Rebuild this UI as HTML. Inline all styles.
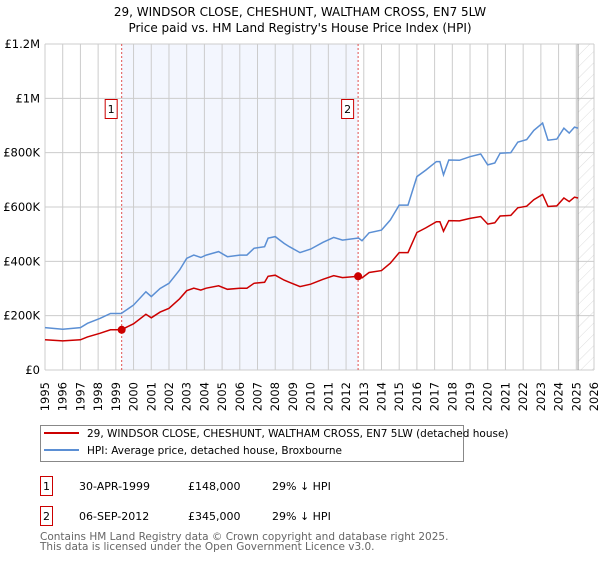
<!DOCTYPE html>
<html><head><meta charset="utf-8">
<style>
body{margin:0;background:#fff;font-family:"DejaVu Sans","Liberation Sans",sans-serif;}
svg text{font-family:"DejaVu Sans","Liberation Sans",sans-serif;}
</style></head>
<body>
<svg id="chart" width="600" height="560" xmlns="http://www.w3.org/2000/svg">
<defs>
<pattern id="hatch" width="8" height="8" patternUnits="userSpaceOnUse" patternTransform="rotate(45)">
<line x1="0" y1="0" x2="0" y2="8" stroke="#d4d4d4" stroke-width="0.8"/>
</pattern>
</defs>
<text x="300" y="16" text-anchor="middle" font-size="12">29, WINDSOR CLOSE, CHESHUNT, WALTHAM CROSS, EN7 5LW</text>
<text x="300" y="32" text-anchor="middle" font-size="12">Price paid vs. HM Land Registry's House Price Index (HPI)</text>
<g id="plot"></g>
<g>
<rect x="40.5" y="425.5" width="423" height="36" fill="#fff" stroke="#888"/>
<line x1="44" y1="433" x2="79" y2="433" stroke="#cc0000" stroke-width="2"/>
<text x="87" y="437" font-size="10.5">29, WINDSOR CLOSE, CHESHUNT, WALTHAM CROSS, EN7 5LW (detached house)</text>
<line x1="44" y1="450" x2="79" y2="450" stroke="#5b8fd4" stroke-width="2"/>
<text x="87" y="454" font-size="10.5">HPI: Average price, detached house, Broxbourne</text>
</g>
<g font-size="11">
<rect x="40.5" y="476.5" width="12" height="19" fill="#fff" stroke="#cc0000"/>
<text x="46.5" y="490" text-anchor="middle">1</text>
<text x="79" y="490">30-APR-1999</text>
<text x="188" y="490">£148,000</text>
<text x="272" y="490">29% ↓ HPI</text>
<rect x="40.5" y="506.5" width="12" height="19" fill="#fff" stroke="#cc0000"/>
<text x="46.5" y="520" text-anchor="middle">2</text>
<text x="79" y="520">06-SEP-2012</text>
<text x="188" y="520">£345,000</text>
<text x="272" y="520">29% ↓ HPI</text>
</g>
<g font-size="10.5" fill="#666">
<text x="40" y="540">Contains HM Land Registry data © Crown copyright and database right 2025.</text>
<text x="40" y="550">This data is licensed under the Open Government Licence v3.0.</text>
</g>
</svg>
<script>
const yTicks=[0,200000,400000,600000,800000,1000000,1200000];
const yTickLabels=["£0","£200K","£400K","£600K","£800K","£1M","£1.2M"];
const xYears=[1995,1996,1997,1998,1999,2000,2001,2002,2003,2004,2005,2006,2007,2008,2009,2010,2011,2012,2013,2014,2015,2016,2017,2018,2019,2020,2021,2022,2023,2024,2025,2026];
const hpiDates=[1995,1996,1997,1997.4,1998.1,1998.7,1999.3,2000,2000.7,2001,2001.5,2002,2002.6,2003,2003.4,2003.8,2004.1,2004.8,2005.3,2006,2006.4,2006.8,2007.4,2007.6,2008,2008.5,2008.8,2009.4,2010,2010.7,2011.3,2011.8,2012.7,2012.9,2013.3,2014,2014.5,2015,2015.5,2016,2016.5,2017.1,2017.3,2017.5,2017.8,2018.4,2019,2019.6,2020,2020.4,2020.7,2021.3,2021.7,2022.2,2022.6,2023.1,2023.4,2023.9,2024.3,2024.6,2024.9,2025.1];
const hpiValues=[156000,150000,156000,172000,190000,208000,208000,239000,288000,270000,300000,319000,368000,411000,423000,414000,423000,436000,417000,423000,423000,448000,454000,485000,491000,466000,454000,432000,445000,470000,488000,478000,486000,476000,505000,515000,552000,607000,607000,712000,736000,767000,767000,718000,773000,772000,785000,795000,755000,762000,798000,800000,839000,848000,882000,909000,846000,850000,890000,872000,894000,890000];
const propValues=[111000,107000,111000,122000,135000,148000,148000,170000,205000,192000,213000,227000,262000,292000,301000,294000,301000,310000,297000,301000,301000,319000,323000,345000,349000,331000,323000,307000,316000,334000,347000,340000,345000,339000,359000,366000,393000,432000,432000,506000,523000,546000,546000,511000,550000,549000,558000,565000,537000,542000,567000,569000,597000,603000,627000,646000,602000,604000,633000,620000,636000,633000];
const sales=[{n:"1",date:1999.33,price:148000},{n:"2",date:2012.68,price:345000}];
const forecastStart=2025.1;

const NS="http://www.w3.org/2000/svg";
const L=45,R=594,T=44,B=370;
const xs=v=>L+(v-1995)/(2026-1995)*(R-L);
const ys=v=>B-v/1200000*(B-T);
const g=document.getElementById('plot');
function mk(tag,attrs,parent){const e=document.createElementNS(NS,tag);for(const k in attrs)e.setAttribute(k,attrs[k]);(parent||g).appendChild(e);return e;}

let e=mk('rect',{x:xs(sales[0].date),y:T,width:xs(sales[1].date)-xs(sales[0].date),height:B-T,fill:'#f3f6fe'});


e=mk('rect',{x:xs(forecastStart),y:T,width:R-xs(forecastStart),height:B-T,fill:'url(#hatch)'});



yTicks.forEach((t,i)=>{
 let l=mk('line',{x1:L,x2:R,y1:ys(t),y2:ys(t),stroke:'#ccc','stroke-width':1});
 
 
 let tx=mk('text',{x:40,y:ys(t)+4,'text-anchor':'end','font-size':'11.5'});
 tx.textContent=yTickLabels[i];
 
 
});
xYears.forEach(yr=>{
 let l=mk('line',{x1:xs(yr),x2:xs(yr),y1:T,y2:B,stroke:'#ccc','stroke-width':1});
 
 
 let tx=mk('text',{x:0,y:0,'text-anchor':'end','font-size':'11.5',transform:`translate(${xs(yr)+4},${B+12}) rotate(-90)`});
 tx.textContent=yr;
 
 
});
e=mk('line',{x1:xs(forecastStart),x2:xs(forecastStart),y1:T,y2:B,stroke:'#999','stroke-width':1});



sales.forEach(s=>{
 let l=mk('line',{x1:xs(s.date),x2:xs(s.date),y1:T,y2:B,stroke:'#e05050','stroke-width':1,'stroke-dasharray':'2,2'});
 
 
});

function path(vals){return hpiDates.map((d,i)=>(i?'L':'M')+xs(d).toFixed(1)+','+ys(vals[i]).toFixed(1)).join('');}
e=mk('path',{d:path(hpiValues),fill:'none',stroke:'#5b8fd4','stroke-width':1.5});


e=mk('path',{d:path(propValues),fill:'none',stroke:'#cc0000','stroke-width':1.5});



sales.forEach(s=>{
 let c=mk('circle',{cx:xs(s.date),cy:ys(s.price),r:4,fill:'#cc0000'});
 
 
 let bx=xs(s.date)-17;
 let r=mk('rect',{x:bx+0.5,y:99.5,width:12,height:19,fill:'#fff',stroke:'#cc0000'});
 
 
 let t=mk('text',{x:bx+6.5,y:113,'text-anchor':'middle','font-size':'11'});
 t.textContent=s.n;
 
 
});
</script>
</body></html>
